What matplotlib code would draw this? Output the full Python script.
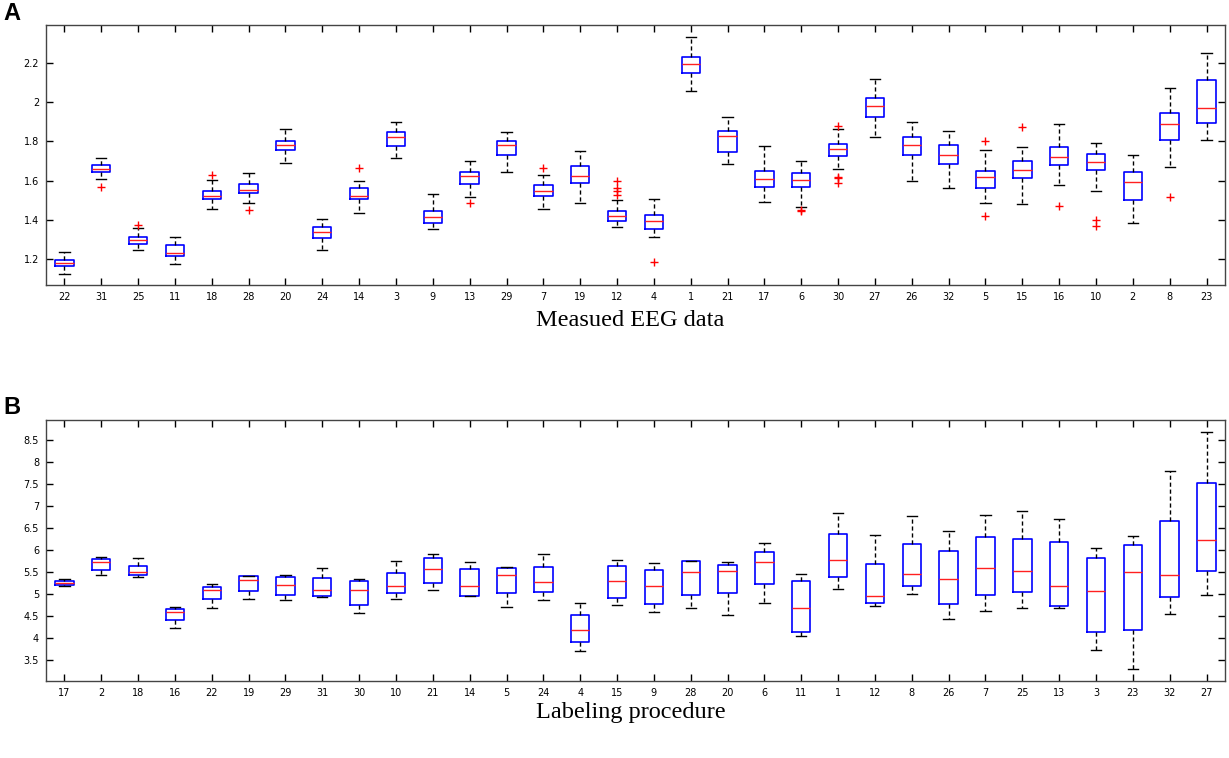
import matplotlib
matplotlib.use("Agg")
import matplotlib.pyplot as plt
from matplotlib.ticker import FuncFormatter

# panel A - measured EEG data
a_labels = [22, 31, 25, 11, 18, 28, 20, 24, 14, 3, 9, 13, 29, 7, 19, 12,
            4, 1, 21, 17, 6, 30, 27, 26, 32, 5, 15, 16, 10, 2, 8, 23]
a_lo = [1.125, 1.609, 1.244, 1.176, 1.456, 1.485, 1.690, 1.244, 1.436, 1.717, 1.354, 1.517,
        1.646, 1.454, 1.485, 1.361, 1.310, 2.057, 1.683, 1.490, 1.465, 1.661, 1.821, 1.597,
        1.560, 1.488, 1.478, 1.577, 1.548, 1.383, 1.668, 1.806]
a_q1 = [1.164, 1.644, 1.276, 1.217, 1.504, 1.536, 1.756, 1.305, 1.504, 1.778, 1.383, 1.585,
        1.729, 1.521, 1.587, 1.395, 1.351, 2.147, 1.748, 1.565, 1.566, 1.728, 1.923, 1.731,
        1.683, 1.563, 1.612, 1.682, 1.653, 1.499, 1.809, 1.894]
a_med = [1.178, 1.660, 1.295, 1.232, 1.521, 1.553, 1.784, 1.339, 1.522, 1.824, 1.414, 1.624,
         1.782, 1.548, 1.624, 1.419, 1.395, 2.196, 1.826, 1.607, 1.604, 1.763, 1.980, 1.782,
         1.729, 1.617, 1.653, 1.722, 1.695, 1.594, 1.889, 1.972]
a_q3 = [1.193, 1.680, 1.312, 1.270, 1.548, 1.582, 1.800, 1.365, 1.561, 1.848, 1.444, 1.644,
        1.802, 1.575, 1.672, 1.444, 1.422, 2.233, 1.851, 1.650, 1.638, 1.785, 2.023, 1.824,
        1.780, 1.648, 1.702, 1.772, 1.734, 1.644, 1.943, 2.113]
a_hi = [1.237, 1.714, 1.360, 1.312, 1.605, 1.641, 1.863, 1.404, 1.599, 1.897, 1.534, 1.702,
        1.850, 1.627, 1.751, 1.499, 1.504, 2.333, 1.926, 1.775, 1.699, 1.865, 2.121, 1.901,
        1.851, 1.758, 1.772, 1.889, 1.792, 1.729, 2.075, 2.253]
a_out = [[], [1.568], [1.372], [], [1.627], [1.448], [], [], [1.665], [], [], [1.485],
         [], [1.665], [], [1.600, 1.560, 1.549, 1.526], [1.183], [], [], [], [1.448, 1.444],
         [1.877, 1.619, 1.611, 1.587], [], [], [], [1.802, 1.419], [1.872], [1.471],
         [1.398, 1.366], [], [1.516], []]

# panel B - labeling procedure
b_labels = [17, 2, 18, 16, 22, 19, 29, 31, 30, 10, 21, 14, 5, 24, 4, 15,
            9, 28, 20, 6, 11, 1, 12, 8, 26, 7, 25, 13, 3, 23, 32, 27]
b_lo = [5.18, 5.44, 5.40, 4.24, 4.69, 4.90, 4.87, 4.94, 4.58, 4.89, 5.09, 4.96, 4.72, 4.88,
        3.72, 4.76, 4.59, 4.70, 4.53, 4.80, 4.05, 5.12, 4.73, 5.01, 4.43, 4.63, 4.70, 4.70,
        3.74, 3.31, 4.56, 4.99]
b_q1 = [5.21, 5.56, 5.44, 4.41, 4.89, 5.08, 4.99, 4.97, 4.76, 5.03, 5.26, 4.96, 5.02, 5.05,
        3.92, 4.91, 4.77, 4.98, 5.02, 5.23, 4.15, 5.39, 4.80, 5.20, 4.77, 4.98, 5.06, 4.74,
        4.15, 4.20, 4.94, 5.54]
b_med = [5.26, 5.73, 5.50, 4.59, 5.09, 5.33, 5.21, 5.10, 5.09, 5.19, 5.57, 5.20, 5.45, 5.29,
         4.20, 5.30, 5.18, 5.51, 5.54, 5.73, 4.68, 5.78, 4.96, 5.47, 5.34, 5.59, 5.53, 5.20,
         5.08, 5.51, 5.43, 6.23]
b_q3 = [5.30, 5.81, 5.65, 4.67, 5.16, 5.42, 5.39, 5.38, 5.30, 5.48, 5.82, 5.58, 5.60, 5.63,
        4.54, 5.65, 5.56, 5.75, 5.66, 5.97, 5.30, 6.38, 5.69, 6.15, 5.99, 6.31, 6.26, 6.18,
        5.83, 6.12, 6.66, 7.53]
b_hi = [5.35, 5.84, 5.82, 4.72, 5.23, 5.42, 5.45, 5.60, 5.34, 5.76, 5.92, 5.73, 5.61, 5.91,
        4.80, 5.78, 5.70, 5.76, 5.73, 6.16, 5.47, 6.85, 6.35, 6.78, 6.43, 6.79, 6.89, 6.72,
        6.05, 6.32, 7.80, 8.69]


def make_stats(lo, q1, med, q3, hi, out=None):
    stats = []
    for i in range(len(med)):
        stats.append({"whislo": lo[i], "q1": q1[i], "med": med[i], "q3": q3[i],
                      "whishi": hi[i], "fliers": out[i] if out else []})
    return stats


def draw_panel(ax, stats, labels, ylim, yticks):
    ax.bxp(stats, positions=range(1, len(stats) + 1), widths=0.5, capwidths=0.28,
           showfliers=True,
           boxprops=dict(color="#0000ff", linewidth=1.2),
           medianprops=dict(color="#ff2020", linewidth=1.0),
           whiskerprops=dict(color="black", linestyle=(0, (3, 2)), linewidth=1.0),
           capprops=dict(color="black", linewidth=1.0),
           flierprops=dict(marker="+", markeredgecolor="red", markersize=6,
                           markeredgewidth=1.0, linestyle="none"))
    ax.set_xlim(0.5, len(stats) + 0.5)
    ax.set_ylim(*ylim)
    ax.set_xticks(range(1, len(stats) + 1))
    ax.set_xticklabels([str(l) for l in labels])
    ax.set_yticks(yticks)
    ax.yaxis.set_major_formatter(FuncFormatter(lambda v, p: "%g" % round(v, 2)))
    ax.tick_params(direction="in", length=5, width=1, top=True, right=True,
                   labelsize=7, pad=5, colors="black")
    for s in ax.spines.values():
        s.set_color("#444444")
        s.set_linewidth(1.0)


fig = plt.figure(figsize=(12.29, 7.58), dpi=100)
ax1 = fig.add_axes([0.0374, 0.624, 0.9593, 0.343])
ax2 = fig.add_axes([0.0374, 0.102, 0.9593, 0.3435])

draw_panel(ax1, make_stats(a_lo, a_q1, a_med, a_q3, a_hi, a_out), a_labels,
           (1.067, 2.394), [1.2, 1.4, 1.6, 1.8, 2.0, 2.2])
draw_panel(ax2, make_stats(b_lo, b_q1, b_med, b_q3, b_hi), b_labels,
           (3.04, 8.95), [3.5, 4, 4.5, 5, 5.5, 6, 6.5, 7, 7.5, 8, 8.5])

fig.text(0.513, 0.577, "Measued EEG data", family="Liberation Serif", fontsize=17.5,
         ha="center", va="center")
fig.text(0.513, 0.06, "Labeling procedure", family="Liberation Serif", fontsize=17.5,
         ha="center", va="center")
fig.text(0.003, 0.982, "A", fontsize=17, fontweight="bold", family="Liberation Sans",
         ha="left", va="center")
fig.text(0.003, 0.463, "B", fontsize=17, fontweight="bold", family="Liberation Sans",
         ha="left", va="center")

fig.savefig("out.png", dpi=100)
